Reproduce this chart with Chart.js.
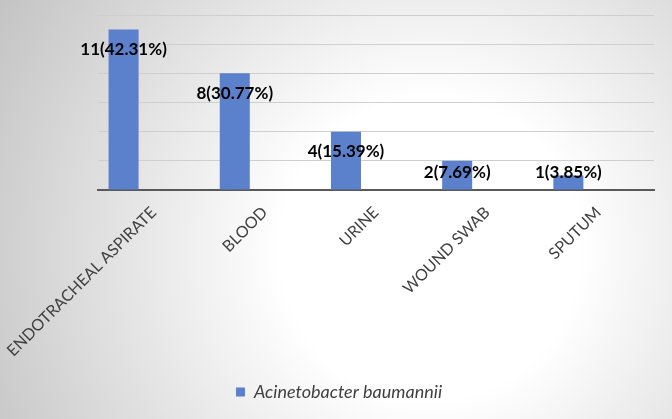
<!DOCTYPE html>
<html>
<head>
<meta charset="utf-8">
<script src="https://cdn.jsdelivr.net/npm/chart.js@4"></script>
<style>
  body { margin: 0; background: #fff; }
  #wrap { width: 672px; height: 419px; }
</style>
</head>
<body>
<div id="wrap"><canvas id="grafico" width="672" height="419"></canvas></div>
<script>
// datos
const muestras = ['ENDOTRACHEAL ASPIRATE', 'BLOOD', 'URINE', 'WOUND SWAB', 'SPUTUM'];
const casos = [11, 8, 4, 2, 1];
const porcentajes = ['42.31', '30.77', '15.39', '7.69', '3.85'];
const vacio = [null, null, null, null, null];
const yTicks = [0, 2, 4, 6, 8, 10, 12];

const azul = '#5b80cc';
const fuente = 'Lato, "Open Sans", sans-serif';

// fondo degradado como en excel
const fondo = {
  id: 'fondo',
  beforeDraw(chart) {
    const c = chart.ctx;
    const g = c.createRadialGradient(430, 250, 0, 430, 250, 500);
    g.addColorStop(0, '#ffffff');
    g.addColorStop(0.3, '#ffffff');
    g.addColorStop(1, '#c3c3c3');
    c.save();
    c.fillStyle = g;
    c.fillRect(0, 0, chart.width, chart.height);
    c.restore();
  }
};

// etiquetas tipo "11(42.31%)"
const etiquetas = {
  id: 'etiquetas',
  afterDatasetsDraw(chart) {
    const c = chart.ctx;
    const meta = chart.getDatasetMeta(0);
    const base = chart.scales.y.getPixelForValue(0);
    c.save();
    c.font = 'bold 17px ' + fuente;
    c.fillStyle = '#000';
    c.textAlign = 'center';
    c.textBaseline = 'middle';
    meta.data.forEach((barra, i) => {
      const y = Math.min(barra.y + 20, base - 17);
      c.fillText(casos[i] + '(' + porcentajes[i] + '%)', barra.x, y);
    });
    c.restore();
  }
};

const ctx = document.getElementById('grafico').getContext('2d');
const chart = new Chart(ctx, {
  type: 'bar',
  data: {
    labels: muestras,
    datasets: [
      { label: 'Acinetobacter baumannii', data: casos, backgroundColor: azul },
      { label: 'x1', data: vacio, backgroundColor: azul },
      { label: 'x2', data: vacio, backgroundColor: azul }
    ]
  },
  options: {
    responsive: false,
    animation: false,
    categoryPercentage: 0.81,
    barPercentage: 1,
    layout: { padding: { left: 6, right: 0, top: 15, bottom: 8 } },
    plugins: {
      tooltip: { enabled: false },
      legend: {
        position: 'bottom',
        labels: {
          filter: (item) => item.datasetIndex === 0,
          boxWidth: 9,
          boxHeight: 9,
          color: '#404040',
          font: { family: fuente, size: 18, style: 'italic' },
          padding: 10
        }
      }
    },
    scales: {
      x: {
        grid: { display: false },
        border: { color: '#595959', width: 2 },
        ticks: {
          minRotation: 45,
          maxRotation: 45,
          padding: 5,
          color: '#404040',
          font: { family: fuente, size: 16 }
        },
        afterFit: (s) => {
          s.height = 183;
          s.paddingLeft = 0;
          s.paddingRight = 0;
        }
      },
      y: {
        min: 0,
        max: 12,
        afterBuildTicks: (s) => { s.ticks = yTicks.map(v => ({ value: v })); },
        ticks: { display: false },
        border: { display: false },
        grid: { color: '#cfcfcf', drawTicks: false },
        afterFit: (s) => { s.width = 92; }
      },
      y2: {
        position: 'right',
        display: true,
        ticks: { display: false },
        border: { display: false },
        grid: { display: false, drawTicks: false },
        afterFit: (s) => { s.width = 18; }
      }
    }
  },
  plugins: [fondo, etiquetas]
});
</script>
</body>
</html>
